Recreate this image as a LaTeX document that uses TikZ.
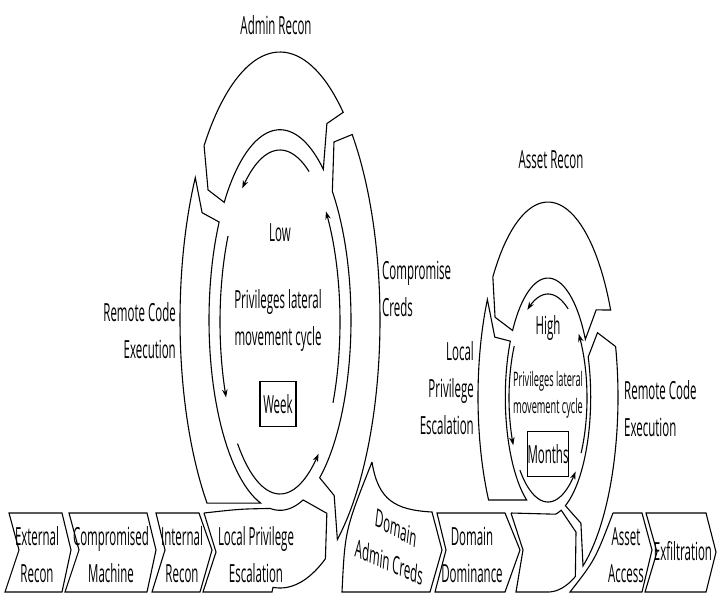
\documentclass[tikz,border=0pt]{standalone}
\usepackage{fontspec}
\usetikzlibrary{arrows.meta}
\newfontfamily\labfont{Open Sans}[FakeStretch=0.46]
\newfontfamily\labfontN{Open Sans}
\newcommand\labA{\labfont\fontsize{25}{37}\selectfont}
\newcommand\labB{\labfont\fontsize{20}{27}\selectfont}
\newcommand\labN{\labfontN\fontsize{25}{37}\selectfont}
\tikzset{
 band/.style={draw=black,line width=1.1pt,fill=white,line join=miter},
 thinar/.style={line width=1.1pt,-{Stealth[length=8pt,width=5.5pt]}},
 lab/.style={font=\labA,inner sep=0pt,align=center},
 labs/.style={font=\labB,inner sep=0pt,align=center},
 labrot/.style={font=\labN,inner sep=0pt,transform shape},
 boxed/.style={draw,line width=1.1pt,inner sep=0pt}
}
\begin{document}
\begin{tikzpicture}[x=1pt,y=-1pt]
\useasboundingbox[fill=white] (0,0) rectangle (717,594);

% ---------- left ring ----------
\begin{scope}[shift={(280,320)},x=100pt,y=268pt]
 \draw[band] (50.8:1) -- plot[domain=50.8:139.4,samples=40](\x:1) -- (146:0.868) -- (141.8:0.71)
   -- plot[domain=141.8:52.4,samples=40](\x:0.71) -- (57.4:0.87) -- cycle;
 \draw[band] (147.9:1) -- plot[domain=147.9:223.1,samples=40](\x:1) -- (254.2:0.71)
   -- plot[domain=254.2:149,samples=40](\x:0.71) -- (152.8:0.876) -- cycle;
 \draw[band] (-55:1) -- plot[domain=-55:43.8,samples=60](\x:1) -- (50.9:0.856) -- (42.5:0.71)
   -- plot[domain=42.5:-56,samples=60](\x:0.71) -- (-50.4:0.85) -- cycle;
\end{scope}
% local privilege escalation band
\draw[band] (204,513) -- (216,552) -- (203,592) -- (272,592)
  -- plot[domain=266:297,samples=20]({280+100*cos(\x)},{320-268*sin(\x)})
  -- ({280+86*cos(303)},{320-230.5*sin(303)})
  -- plot[domain=289:262,samples=20]({280+71*cos(\x)},{320-190.3*sin(\x)})
  .. controls (240,509) .. (204,513);
% domain admin creds
\draw[band] (372,462) .. controls (378,500) and (395,510) .. (432,512) -- (442,550) -- (430,592)
  -- (342,592) .. controls (345,530) .. (372,462);

% left thin arrows
\begin{scope}[shift={(280,322)},x=60pt,y=172pt]
 \draw[thinar] plot[domain=61:129,samples=30](\x:1);
 \draw[thinar] plot[domain=-28:40,samples=30](\x:1);
 \draw[thinar] plot[domain=150:206,samples=30](\x:1);
 \draw[thinar] plot[domain=225:310,samples=30](\x:1);
\end{scope}

% ---------- right ring ----------
\begin{scope}[shift={(548,397)},x=70pt,y=195pt]
 \draw[band] (26.5:1) -- plot[domain=26.5:142,samples=40](\x:1) -- (151.6:0.86) -- (146:0.61)
   -- plot[domain=146:29,samples=40](\x:0.61) -- (33:0.82) -- cycle;
 \draw[band] (150:1) -- plot[domain=150:211.9,samples=40](\x:1) -- (240:0.61)
   -- plot[domain=240:152,samples=40](\x:0.61) -- (158:0.82) -- cycle;
 \draw[band] (300:1) -- plot[domain=300:375,samples=40](\x:1) -- (25:0.78) -- (19.7:0.61)
   -- plot[domain=379.7:294,samples=40](\x:0.61) -- (306:0.8) -- cycle;
\end{scope}
% bottom band into right ring
\draw[band] (511,513) -- (523,550) -- (516,592) -- (548,592)
  -- plot[domain=270:293,samples=20]({548+70*cos(\x)},{397-195*sin(\x)})
  -- ({548+56*cos(300)},{397-156*sin(300)})
  -- plot[domain=288:280,samples=10]({548+42.7*cos(\x)},{397-119*sin(\x)})
  -- (511,513);
% asset access
\draw[band] (613,513) -- (642,513) -- (652,550) -- (642,592) -- (570,592)
  .. controls (595,560) .. (613,513);

% right thin arrows
\begin{scope}[shift={(548,398)},x=39pt,y=104pt]
 \draw[thinar] plot[domain=59:122,samples=30](\x:1);
 \draw[thinar] plot[domain=-32:38,samples=30](\x:1);
 \draw[thinar] plot[domain=150:207,samples=30](\x:1);
 \draw[thinar] plot[domain=224:315,samples=30](\x:1);
\end{scope}

% ---------- bottom chevrons ----------
\draw[band] (9,513) -- (62,513) -- (71,550) -- (62,592) -- (5,592) -- (19,550) -- cycle;
\draw[band] (69,513) -- (147,513) -- (156,550) -- (147,592) -- (65,592) -- (79,550) -- cycle;
\draw[band] (156,513) -- (199,513) -- (212,550) -- (200,592) -- (152,592) -- (165,550) -- cycle;
\draw[band] (437,513) -- (505,513) -- (520,550) -- (505,592) -- (435,592) -- (446,550) -- cycle;
\draw[band] (646,513) -- (706,513) -- (716,552) -- (706,592) -- (645,592) -- (657,552) -- cycle;

% ---------- labels ----------
\node[lab] (adminrecon) at (276,25) {Admin Recon};
\node[lab,anchor=west,align=left] (compcreds) at (382,289) {Compromise\\Creds};
\node[lab,anchor=east,align=right] (rce1) at (176,331) {Remote Code\\Execution};
\node[lab] (low) at (280,233) {Low};
\node[lab] (plm1) at (278,321) {Privileges lateral\\movement cycle};
\node[lab,boxed,minimum width=36pt,minimum height=45pt] (week) at (278,404) {Week};

\node[lab] (assetrecon) at (551,160) {Asset Recon};
\node[lab,anchor=east,align=right] (lpe2) at (474,388) {Local\\Privilege\\Escalation};
\node[lab,anchor=west,align=left] (rce2) at (624,409) {Remote Code\\Execution};
\node[lab] (high) at (548,328) {High};
\node[labs] (plm2) at (548,395) {Privileges lateral\\movement cycle};
\node[lab,boxed,minimum width=40pt,minimum height=45pt] (months) at (548,454) {Months};

\node[lab] (extrecon) at (37,555) {External\\Recon};
\node[lab] (compmach) at (111,555) {Compromised\\Machine};
\node[lab] (intrecon) at (182,555) {Internal\\Recon};
\node[lab] (lpe1) at (256,555) {Local Privilege\\Escalation};
\begin{scope}[shift={(396,528)},xscale=0.46]
 \node[labrot,rotate=-14] (dom1) at (0,0) {Domain};
\end{scope}
\begin{scope}[shift={(389,562)},xscale=0.46]
 \node[labrot,rotate=-11] (dom2) at (0,0) {Admin Creds};
\end{scope}
\node[lab] (domdom) at (472,555) {Domain\\Dominance};
\node[lab] (assetacc) at (626,555) {Asset\\Access};
\node[lab] (exfil) at (683,551) {Exfiltration};
\end{tikzpicture}
\end{document}
